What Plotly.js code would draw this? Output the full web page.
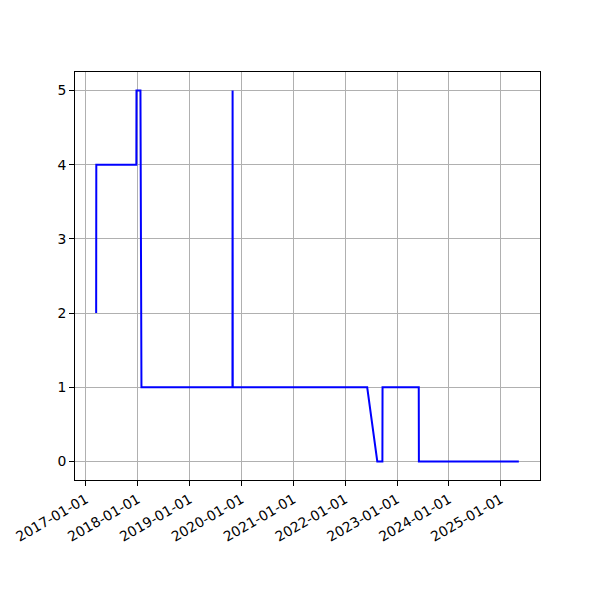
<!DOCTYPE html>
<html>
<head>
<meta charset="utf-8">
<script src="https://cdn.plot.ly/plotly-3.0.1.min.js"></script>
<style>html,body{margin:0;padding:0;background:#fff;}#chart{width:600px;height:600px;}</style>
</head>
<body>
<div id="chart"></div>
<script>
const dates = [
  "2017-03-14", "2017-03-15", "2017-12-22", "2017-12-23", "2018-01-20", "2018-01-27",
  "2019-10-30", "2019-10-31", "2019-11-01", "2022-06-05", "2022-08-15", "2022-09-20",
  "2022-09-21", "2023-06-03", "2023-06-04", "2025-05-08"
];
const values = [2, 4, 4, 5, 5, 1, 1, 5, 1, 1, 0, 0, 1, 1, 0, 0];
const yTicks = [0, 1, 2, 3, 4, 5];

const font = {family: "DejaVu Sans, sans-serif", size: 13.9, color: "#000"};
Plotly.newPlot("chart", [{
  x: dates, y: values, type: "scatter", mode: "lines",
  line: {color: "#0000ff", width: 2}
}], {
  width: 600, height: 600,
  margin: {l: 75, r: 60, t: 72, b: 120, pad: 0},
  paper_bgcolor: "#fff", plot_bgcolor: "#fff",
  showlegend: false,
  font: font,
  xaxis: {
    type: "date", range: ["2016-10-16", "2025-10-04"],
    tick0: "2017-01-01", dtick: "M12", tickformat: "%Y-%m-%d",
    tickangle: -30, ticks: "outside", ticklen: 5, tickwidth: 1, tickcolor: "#000",
    showgrid: true, gridcolor: "#b0b0b0", gridwidth: 1,
    showline: true, linecolor: "#000", linewidth: 1, mirror: true,
    zeroline: false, tickfont: font
  },
  yaxis: {
    range: [-0.25, 5.25], tickvals: yTicks,
    ticks: "outside", ticklen: 5, tickwidth: 1, tickcolor: "#000",
    showgrid: true, gridcolor: "#b0b0b0", gridwidth: 1,
    showline: true, linecolor: "#000", linewidth: 1, mirror: true,
    zeroline: false, tickfont: font
  }
}, {staticPlot: true});
</script>
</body>
</html>
